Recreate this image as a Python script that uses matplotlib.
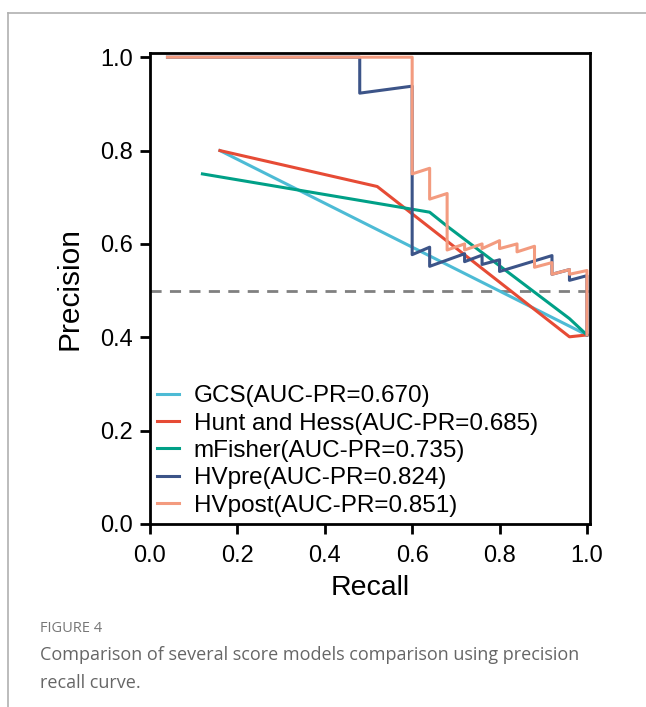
import matplotlib.pyplot as plt
from matplotlib.lines import Line2D

plt.rcParams['font.family'] = ['Liberation Sans', 'DejaVu Sans']

# PR curve points
gcs_recall = [0.16, 1.0]
gcs_prec = [0.80, 0.405]

hh_recall = [0.16, 0.52, 0.96, 1.0]
hh_prec = [0.80, 0.723, 0.401, 0.405]

mf_recall = [0.12, 0.64, 0.68, 0.96, 1.0]
mf_prec = [0.75, 0.668, 0.638, 0.44, 0.405]

hvpre_recall = [0.04, 0.48, 0.48, 0.6, 0.6, 0.64, 0.64, 0.72, 0.72, 0.76, 0.76,
                0.8, 0.8, 0.92, 0.92, 0.96, 0.96, 1.0, 1.0]
hvpre_prec = [1.0, 1.0, 0.923, 0.938, 0.577, 0.593, 0.552, 0.579, 0.562, 0.576, 0.556,
              0.566, 0.541, 0.575, 0.535, 0.545, 0.522, 0.532, 0.405]

hvpost_recall = [0.04, 0.6, 0.6, 0.64, 0.64, 0.68, 0.68, 0.72, 0.72, 0.76, 0.76,
                 0.8, 0.8, 0.84, 0.84, 0.88, 0.88, 0.92, 0.92, 0.96, 0.96, 1.0, 1.0]
hvpost_prec = [1.0, 1.0, 0.75, 0.762, 0.696, 0.708, 0.587, 0.6, 0.587, 0.6, 0.59,
               0.607, 0.59, 0.6, 0.583, 0.595, 0.55, 0.56, 0.535, 0.545, 0.535, 0.543, 0.405]

labels = ['GCS(AUC-PR=0.670)', 'Hunt and Hess(AUC-PR=0.685)', 'mFisher(AUC-PR=0.735)',
          'HVpre(AUC-PR=0.824)', 'HVpost(AUC-PR=0.851)']
colors = ['#4DBBD5', '#E64B35', '#00A087', '#3C5488', '#F39B7F']
baseline = 0.5

fig = plt.figure(figsize=(6.46, 7.07), dpi=100)
ax = fig.add_axes([150 / 646, 183 / 707, 440 / 646, 471 / 707])

ax.axhline(baseline, color='#808080', lw=2.0, ls=(0, (4, 3)), zorder=1)

curves = [(gcs_recall, gcs_prec), (hh_recall, hh_prec), (mf_recall, mf_prec),
          (hvpre_recall, hvpre_prec), (hvpost_recall, hvpost_prec)]
for (r, p), c, lab in zip(curves, colors, labels):
    ax.plot(r, p, color=c, lw=2.2, label=lab, zorder=2)

ax.set_xlim(0, 1.007)
ax.set_ylim(0, 1.009)
ax.set_xticks([0, 0.2, 0.4, 0.6, 0.8, 1.0])
ax.set_yticks([0, 0.2, 0.4, 0.6, 0.8, 1.0])
ax.set_xticklabels(['0.0', '0.2', '0.4', '0.6', '0.8', '1.0'])
ax.set_yticklabels(['0.0', '0.2', '0.4', '0.6', '0.8', '1.0'])
ax.tick_params(labelsize=17, width=2.0, length=7)
ax.tick_params(axis='x', pad=8)
ax.tick_params(axis='y', pad=5)
for s in ax.spines.values():
    s.set_linewidth(2.0)

ax.set_xlabel('Recall', fontsize=20.5, labelpad=6)
ax.set_ylabel('Precision', fontsize=21.5, labelpad=12)

ax.legend(loc='lower left', frameon=False, fontsize=17.5, borderaxespad=0.0,
          borderpad=0.3, handlelength=0.9, handletextpad=0.6, labelspacing=0.22)

# page frame and caption
fig.add_artist(Line2D([8 / 646, 1], [1 - 13 / 707, 1 - 13 / 707], color='#b0b0b0', lw=1.2))
fig.add_artist(Line2D([8 / 646, 8 / 646], [0, 1 - 13 / 707], color='#b0b0b0', lw=1.2))
fig.text(40 / 646, 1 - 628 / 707, 'FIGURE 4', fontsize=10.5, color='#777777',
         family=['Open Sans', 'DejaVu Sans'], va='center')
fig.text(40 / 646, 1 - 655 / 707, 'Comparison of several score models comparison using precision',
         fontsize=13, color='#666666', family=['Open Sans', 'DejaVu Sans'], va='center')
fig.text(40 / 646, 1 - 683 / 707, 'recall curve.',
         fontsize=13, color='#666666', family=['Open Sans', 'DejaVu Sans'], va='center')

fig.savefig('out.png', dpi=100)
